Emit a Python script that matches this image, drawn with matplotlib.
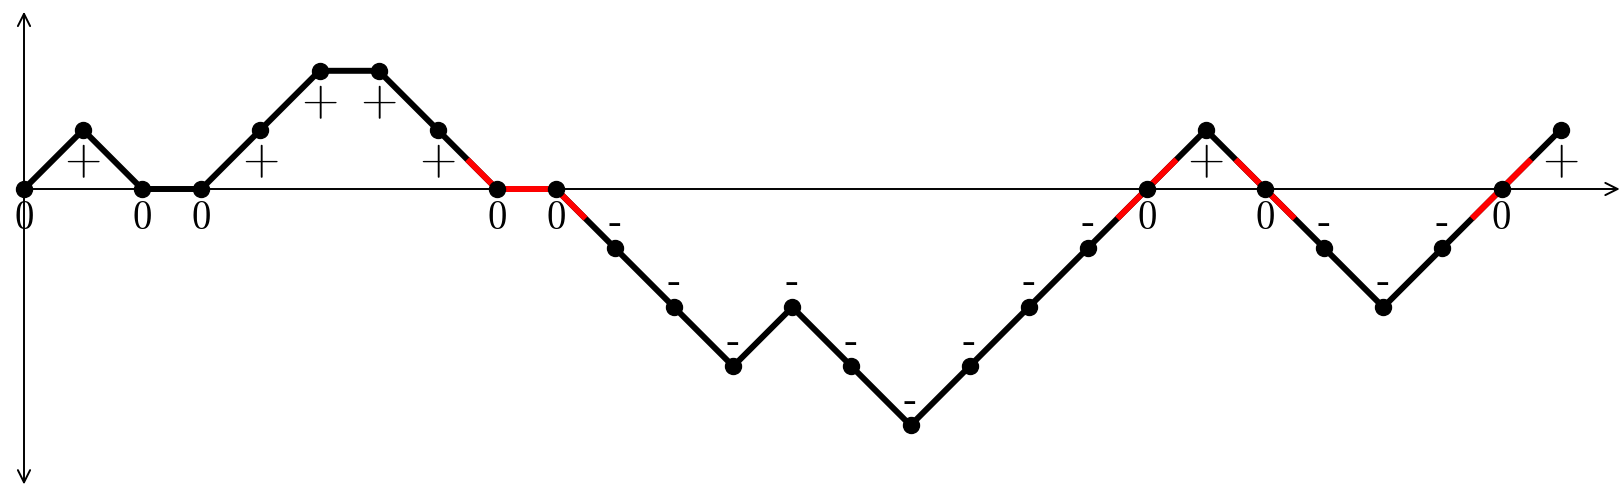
import matplotlib
matplotlib.use("Agg")
import matplotlib.pyplot as plt

# lattice path heights, one per step
path_y = [0, 1, 0, 0, 1, 2, 2, 1, 0, 0, -1, -2, -3, -2, -3, -4, -3, -2, -1, 0, 1, 0, -1, -2, -1, 0, 1]
path_x = list(range(len(path_y)))
# zeros whose neighbouring half-steps are drawn red
red_zeros = [8, 9, 19, 21, 25]

fig = plt.figure(figsize=(16.2, 4.86), dpi=100)
ax = fig.add_axes([0, 0, 1, 1])
ax.set_xlim(-24 / 59.1, (1620 - 24) / 59.1)
ax.set_ylim(-(486 - 189) / 59.1, 189 / 59.1)
ax.axis("off")

# axes with arrows
ax.annotate("", xy=(27, 0), xytext=(0, 0),
            arrowprops=dict(arrowstyle="->", lw=1.4, color="black",
                            mutation_scale=22, shrinkA=0, shrinkB=0))
ax.annotate("", xy=(0, 3), xytext=(0, -5),
            arrowprops=dict(arrowstyle="<->", lw=1.4, color="black",
                            mutation_scale=22, shrinkA=0, shrinkB=0))

lw = 4.3
ax.plot(path_x, path_y, color="black", lw=lw, solid_capstyle="butt", zorder=3)

# red halves around the chosen zeros
for z in red_zeros:
    if z > 0:
        xm = (path_x[z - 1] + path_x[z]) / 2
        ym = (path_y[z - 1] + path_y[z]) / 2
        ax.plot([xm, path_x[z]], [ym, path_y[z]], color="#ff0000", lw=lw,
                solid_capstyle="butt", zorder=4)
    if z < len(path_y) - 1:
        xm = (path_x[z + 1] + path_x[z]) / 2
        ym = (path_y[z + 1] + path_y[z]) / 2
        ax.plot([path_x[z], xm], [path_y[z], ym], color="#ff0000", lw=lw,
                solid_capstyle="butt", zorder=4)

ax.plot(path_x, path_y, "o", color="black", ms=11.5, zorder=5)

for x, y in zip(path_x, path_y):
    if y == 0:
        ax.text(x, y - 0.677, "0", fontname="cmr10", fontsize=28,
                ha="center", va="baseline", zorder=6)
    elif y > 0:
        ax.text(x, y - 0.745, "+", fontname="cmr10", fontsize=34.5,
                ha="center", va="baseline", zorder=6)
    else:
        ax.text(x, y + 0.25, "-", fontname="cmr10", fontsize=29,
                ha="center", va="baseline", zorder=6)

fig.savefig("out.png", dpi=100)
